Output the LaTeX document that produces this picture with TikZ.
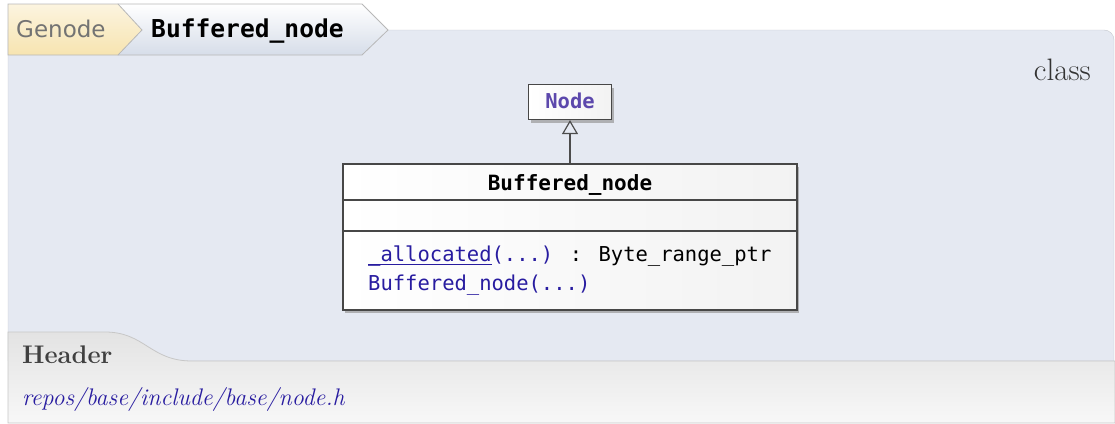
\documentclass[tikz,border=0pt]{standalone}
\usepackage{fontspec}
\newfontfamily\codefont{DejaVu Sans Mono}
\newfontfamily\crumbfont{DejaVu Sans}
\usetikzlibrary{arrows.meta}
\usetikzlibrary{shadows}
\definecolor{panel}{RGB}{229,233,242}
\definecolor{linkblue}{RGB}{40,28,160}
\definecolor{nodepurple}{RGB}{92,72,172}
\definecolor{edgegray}{RGB}{196,200,206}
\definecolor{crumbgold}{RGB}{247,228,176}
\definecolor{crumbblue}{RGB}{214,221,233}
\newcommand\linkul[1]{\setbox0\hbox{#1}\rlap{\rule[-4pt]{\wd0}{1.1pt}}\box0}
\tikzset{
  crumb/.style={draw=black!28, line width=0.8pt},
  umlbox/.style={draw=black!72, line width=1.2pt, left color=white, right color=black!5,
    drop shadow={shadow xshift=2pt, shadow yshift=-3pt, fill=black!40, opacity=0.7}},
  code/.style={font=\codefont\fontsize{20.5}{24}\selectfont, inner sep=0pt},
}
\begin{document}
\begin{tikzpicture}[x=1pt, y=-1pt]
\def\top{30}
\def\sep{361}
\useasboundingbox (0,0) rectangle (1115,423);

\draw[draw=edgegray, fill=panel] (8,\top) -- (1104,\top) to[out=0, in=90] (1114,\top+10) -- (1114,\sep) -- (8,\sep) -- cycle;
\draw[draw=black!22, line width=0.8pt, top color=black!11, bottom color=black!3] (8,332) -- (105,332) .. controls (145,332) and (150,\sep) .. (192,\sep) -- (1115,\sep) -- (1115,423) -- (8,423) -- cycle;

\draw[crumb, top color=white, bottom color=crumbblue] (118,4) -- (362,4) -- (388,\top) -- (362,55) -- (118,55) -- cycle;
\draw[crumb, top color=white!60!crumbgold, bottom color=crumbgold] (8,4) -- (118,4) -- (142,\top) -- (118,55) -- (8,55) -- cycle;
\node[anchor=base west, inner sep=0pt, text=black!55, font=\crumbfont\fontsize{23}{26}\selectfont] (crumbns) at (16,37) {Genode};
\node[anchor=base west, inner sep=0pt, font=\codefont\bfseries\fontsize{24.6}{26}\selectfont] (crumbcls) at (151,37) {Buffered\_node};

\node[anchor=base east, inner sep=0pt, text=black!80, font=\fontsize{31}{33}\selectfont] (kind) at (1091,80) {class};

\node[umlbox, minimum width=83pt, minimum height=35pt, inner sep=0pt] (base) at (570,102) {};
\node[code, anchor=base, text=nodepurple, font=\codefont\bfseries\fontsize{20.5}{24}\selectfont] (basename) at (base.center |- 0,108) {Node};

\node[umlbox, minimum width=454pt, minimum height=146pt, inner sep=0pt] (cls) at (570,237) {};
\node[code, anchor=base, font=\codefont\bfseries\fontsize{21}{24}\selectfont] (clsname) at (cls.center |- 0,190) {Buffered\_node};
\foreach \y in {200, 231} \draw[black!72, line width=1.2pt] (cls.west |- 0,\y) -- (cls.east |- 0,\y);
\node[code, anchor=base west] (memalloc) at (368,261) {\textcolor{linkblue}{\linkul{\_allocated}(...)} : Byte\_range\_ptr};
\node[code, anchor=base west, text=linkblue] (memctor) at (368,290) {Buffered\_node(...)};

\draw[black!70, line width=1.2pt, -{Triangle[open, width=16pt, length=14pt]}] (cls.north) -- (base.south);

\node[anchor=base west, inner sep=0pt, text=black!75, font=\bfseries\fontsize{25.5}{28}\selectfont] (hdr) at (22,363) {Header};
\node[anchor=base west, inner sep=0pt, text=linkblue, font=\itshape\fontsize{24}{26}\selectfont] (hdrpath) at (22,405) {repos/base/include/base/node.h};
\end{tikzpicture}
\end{document}
